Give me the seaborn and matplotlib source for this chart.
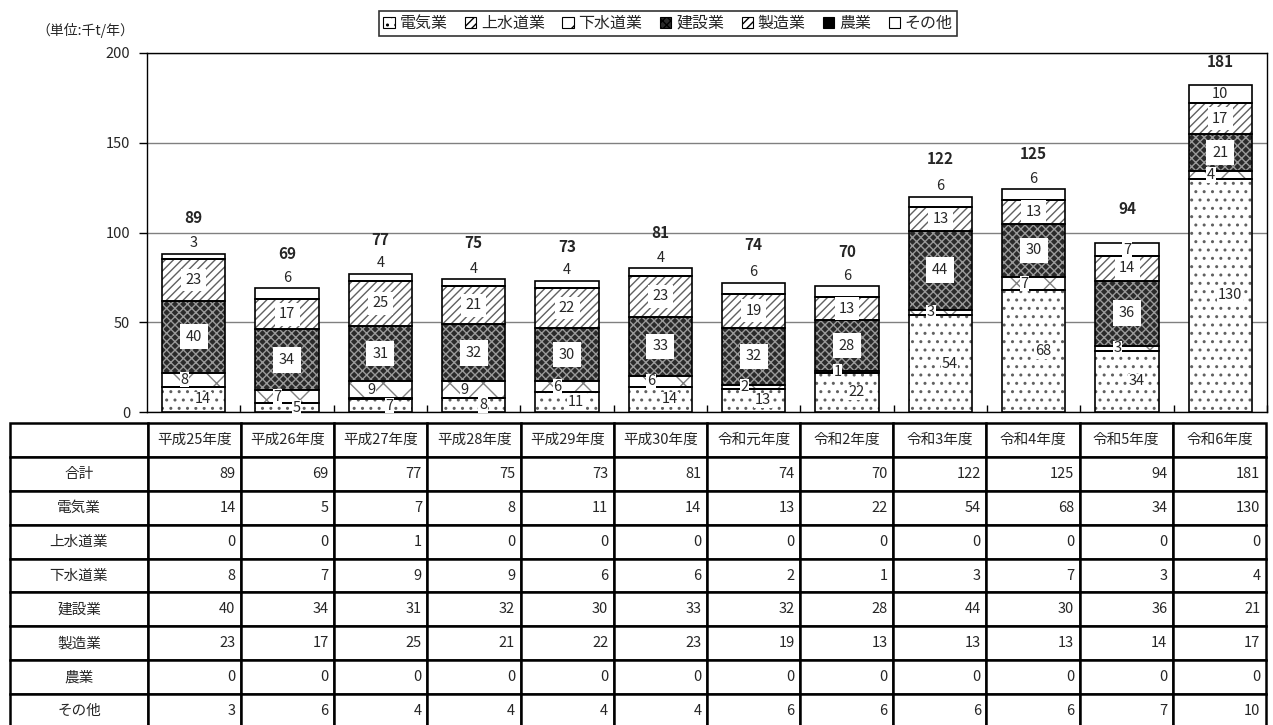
import numpy as np
import matplotlib
matplotlib.use('Agg')
import matplotlib.pyplot as plt
import seaborn as sns
from matplotlib.patches import Patch

# データ
years = ['平成25年度', '平成26年度', '平成27年度', '平成28年度', '平成29年度', '平成30年度',
         '令和元年度', '令和2年度', '令和3年度', '令和4年度', '令和5年度', '令和6年度']
goukei = [89, 69, 77, 75, 73, 81, 74, 70, 122, 125, 94, 181]
denki = [14, 5, 7, 8, 11, 14, 13, 22, 54, 68, 34, 130]
jousui = [0, 0, 1, 0, 0, 0, 0, 0, 0, 0, 0, 0]
gesui = [8, 7, 9, 9, 6, 6, 2, 1, 3, 7, 3, 4]
kensetsu = [40, 34, 31, 32, 30, 33, 32, 28, 44, 30, 36, 21]
seizou = [23, 17, 25, 21, 22, 23, 19, 13, 13, 13, 14, 17]
nougyou = [0, 0, 0, 0, 0, 0, 0, 0, 0, 0, 0, 0]
sonota = [3, 6, 4, 4, 4, 4, 6, 6, 6, 6, 7, 10]

names = ['電気業', '上水道業', '下水道業', '建設業', '製造業', '農業', 'その他']
series = [denki, jousui, gesui, kensetsu, seizou, nougyou, sonota]

# 塗りつぶしの設定 (面の色, ハッチの色, ハッチ)
styles = [('white', '#606060', '..'),
          ('white', 'black', '////'),
          ('white', '#808080', 'x'),
          ('#2a2a2a', '#9a9a9a', 'xxxx'),
          ('white', '#606060', '////'),
          ('black', 'black', None),
          ('white', 'white', None)]

sns.set_style('white')
plt.rcParams['font.family'] = ['Noto Sans CJK JP', 'DejaVu Sans']
plt.rcParams['hatch.linewidth'] = 1.0

W, H = 1273, 725
fig = plt.figure(figsize=(W / 100, H / 100), dpi=100)
ax = fig.add_axes([147 / W, 1 - 412 / H, 1120 / W, (412 - 53) / H])

bottom = np.zeros(len(years))
for name, vals, (face, hc, hatch) in zip(names, series, styles):
    sns.barplot(x=years, y=vals, order=years, bottom=bottom.copy(), width=0.68,
                color=face, saturation=1, facecolor=face, edgecolor=hc, hatch=hatch,
                linewidth=0, errorbar=None, ax=ax, zorder=3)
    sns.barplot(x=years, y=vals, order=years, bottom=bottom.copy(), width=0.68,
                color='black', saturation=1, facecolor='none', edgecolor='black',
                linewidth=1.2, errorbar=None, ax=ax, zorder=4)
    bottom += np.array(vals)

# ラベル
fs = 10.5
def put(x, y, s, pad, **kw):
    ax.text(x, y, s, ha='center', va='center', fontsize=fs, zorder=6,
            bbox=dict(boxstyle='square,pad=%s' % pad, fc='white', ec='none'), **kw)

base = np.zeros(len(years))
for k, vals in enumerate(series):
    for i, v in enumerate(vals):
        if v <= 0:
            continue
        mid = base[i] + v / 2
        if names[k] == '建設業':
            put(i, mid, str(v), 0.4)
        elif names[k] == '製造業':
            put(i, mid, str(v), 0.3)
        elif names[k] == 'その他':
            if v >= 7:
                put(i, mid, str(v), 0.05)
            else:
                ax.text(i, base[i] + v + 2, str(v), ha='center', va='bottom',
                        fontsize=fs, zorder=6)
        elif names[k] == '電気業':
            put(i + 0.1, mid, str(v), 0.05)
        elif names[k] == '下水道業':
            put(i - 0.1, mid, str(v), 0.05)
    base += np.array(vals)

for i, t in enumerate(goukei):
    ax.text(i, min(t + 19, 195), str(t), ha='center', va='center',
            fontsize=11, fontweight='bold', zorder=6)

ax.set_ylim(0, 200)
ax.set_xlim(-0.5, len(years) - 0.5)
ax.set_yticks([0, 50, 100, 150, 200])
ax.set_xticks(np.arange(len(years)) + 0.5, minor=True)
ax.set_xticks([])
ax.tick_params(axis='y', direction='out', length=6, width=1, labelsize=fs, color='black',
               left=True, pad=6)
ax.tick_params(axis='x', which='minor', direction='in', length=5, width=1, color='black', bottom=True)
ax.yaxis.grid(True, color='#808080', linewidth=1, zorder=0)
ax.set_axisbelow(True)
ax.set_xlabel('')
ax.set_ylabel('')
for sp in ax.spines.values():
    sp.set_color('black')
    sp.set_linewidth(1)

fig.text(85 / W, 1 - 30 / H, '（単位:千t/年）', ha='center', va='center', fontsize=10)

handles = [Patch(facecolor=f, edgecolor='black', hatch=h, linewidth=0.8) for f, hc, h in styles]
leg = fig.legend(handles, names, loc='upper center', bbox_to_anchor=(668 / W, 1 - 3 / H),
                 ncol=7, frameon=True, fancybox=False, edgecolor='black',
                 handlelength=0.7, handleheight=0.7, handletextpad=0.3,
                 columnspacing=1.1, borderpad=0.25, fontsize=11.5)
leg.get_frame().set_linewidth(1.2)

# 表
tax = fig.add_axes([10 / W, -3 / H, 1256 / W, (725 - 423 + 3) / H])
tax.axis('off')
rows = [['合計'] + goukei] + [[n] + v for n, v in zip(names, series)]
cell_text = [[''] + years] + [[str(c) for c in r] for r in rows]
widths = [138] + [93.17] * len(years)
widths = [w / sum(widths) for w in widths]
tbl = tax.table(cellText=cell_text, colWidths=widths, cellLoc='right', bbox=[0, 0, 1, 1])
tbl.auto_set_font_size(False)
tbl.set_fontsize(fs)
for (r, c), cell in tbl.get_celld().items():
    cell.set_linewidth(1.8)
    cell.set_edgecolor('black')
    cell.PAD = 0.06
    if r == 0 or c == 0:
        cell._loc = 'center'
        cell.get_text().set_horizontalalignment('center')

fig.savefig('out.png', dpi=100)
